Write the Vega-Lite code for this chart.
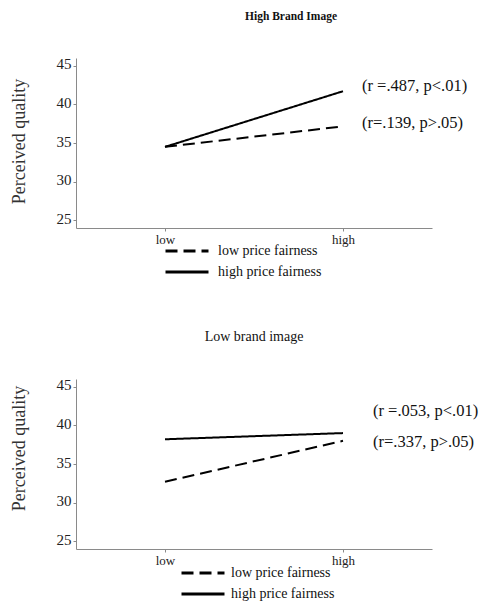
{
  "$schema": "https://vega.github.io/schema/vega-lite/v6.json",
  "background": "white",
  "padding": {"top": 11, "left": 10, "right": 0, "bottom": 0},
  "spacing": 46,
  "resolve": {"scale": {"strokeDash": "independent"}, "legend": {"strokeDash": "independent"}},
  "config": {
    "view": {"stroke": null},
    "font": "Liberation Serif",
    "axis": {"grid": false, "domainColor": "#8a8a8a", "tickColor": "#8a8a8a", "tickSize": 3, "labelFont": "Liberation Serif", "titleFont": "Liberation Serif", "labelColor": "#222", "titleColor": "#333", "titleFontWeight": "normal"},
    "title": {"font": "Liberation Serif", "color": "#111"}
  },
  "datasets": {
    "lines": [
      {"panel": "high", "fairness": "low price fairness", "level": "low", "value": 34.5},
      {"panel": "high", "fairness": "low price fairness", "level": "high", "value": 37.15},
      {"panel": "high", "fairness": "high price fairness", "level": "low", "value": 34.5},
      {"panel": "high", "fairness": "high price fairness", "level": "high", "value": 41.7},
      {"panel": "low", "fairness": "low price fairness", "level": "low", "value": 32.7},
      {"panel": "low", "fairness": "low price fairness", "level": "high", "value": 38.0},
      {"panel": "low", "fairness": "high price fairness", "level": "low", "value": 38.2},
      {"panel": "low", "fairness": "high price fairness", "level": "high", "value": 39.0}
    ],
    "notes": [
      {"panel": "high", "level": "high", "y": 42.4, "label": "(r =.487, p<.01)"},
      {"panel": "high", "level": "high", "y": 37.65, "label": "(r=.139, p>.05)"},
      {"panel": "low", "level": "high", "y": 41.9, "label": "(r =.053, p<.01)"},
      {"panel": "low", "level": "high", "y": 37.9, "label": "(r=.337, p>.05)"}
    ]
  },
  "vconcat": [
    {
      "width": 356,
      "height": 170,
      "title": {"text": "High Brand Image", "fontWeight": "bold", "fontSize": 11.5, "dx": 37, "offset": 34},
      "layer": [
        {
          "data": {"name": "lines"},
          "transform": [{"filter": "datum.panel === 'high'"}],
          "mark": {"type": "line", "color": "black", "strokeWidth": 2},
          "encoding": {
            "x": {"field": "level", "type": "ordinal", "scale": {"type": "point", "domain": ["low", "high"], "padding": 0.5}, "axis": {"title": null, "labelAngle": 0, "labelFontSize": 13, "labelPadding": 2}},
            "y": {"field": "value", "type": "quantitative", "scale": {"domain": [25, 45]}, "axis": {"values": [25, 30, 35, 40, 45], "title": "Perceived quality", "labelFontSize": 15, "titleFontSize": 18, "labelPadding": 2, "labelOffset": -2, "titlePadding": 28, "titleY": 83}},
            "strokeDash": {"field": "fairness", "type": "nominal", "scale": {"domain": ["low price fairness", "high price fairness"], "range": [[12, 6], [1, 0]]},
              "legend": {"title": null, "orient": "none", "legendX": 88, "legendY": 182.5, "symbolType": "stroke", "symbolSize": 1849, "symbolStrokeWidth": 3, "symbolStrokeColor": "black", "labelFontSize": 14, "labelFont": "Liberation Serif", "labelColor": "#111", "clipHeight": 21, "rowPadding": 0, "padding": 0, "labelOffset": 8, "direction": "vertical",
                "encode": {"symbols": {"update": {"strokeDash": {"signal": "datum.value === 'low price fairness' ? [22, 12] : [1, 0]"}}}}}}
          }
        },
        {
          "data": {"name": "notes"},
          "transform": [{"filter": "datum.panel === 'high'"}],
          "mark": {"type": "text", "align": "left", "baseline": "middle", "dx": 19, "fontSize": 16.5, "color": "#111"},
          "encoding": {
            "x": {"field": "level", "type": "ordinal"},
            "y": {"field": "y", "type": "quantitative"},
            "text": {"field": "label"}
          }
        }
      ]
    },
    {
      "width": 356,
      "height": 170,
      "title": {"text": "Low brand image", "fontWeight": "normal", "fontSize": 14, "offset": 34},
      "layer": [
        {
          "data": {"name": "lines"},
          "transform": [{"filter": "datum.panel === 'low'"}],
          "mark": {"type": "line", "color": "black", "strokeWidth": 2},
          "encoding": {
            "x": {"field": "level", "type": "ordinal", "scale": {"type": "point", "domain": ["low", "high"], "padding": 0.5}, "axis": {"title": null, "labelAngle": 0, "labelFontSize": 13, "labelPadding": 2}},
            "y": {"field": "value", "type": "quantitative", "scale": {"domain": [25, 45]}, "axis": {"values": [25, 30, 35, 40, 45], "title": "Perceived quality", "labelFontSize": 15, "titleFontSize": 18, "labelPadding": 2, "labelOffset": -2, "titlePadding": 28, "titleY": 69}},
            "strokeDash": {"field": "fairness", "type": "nominal", "scale": {"domain": ["low price fairness", "high price fairness"], "range": [[12, 6], [1, 0]]},
              "legend": {"title": null, "orient": "none", "legendX": 104, "legendY": 183.5, "symbolType": "stroke", "symbolSize": 1849, "symbolStrokeWidth": 3, "symbolStrokeColor": "black", "labelFontSize": 14, "labelFont": "Liberation Serif", "labelColor": "#111", "clipHeight": 21, "rowPadding": 0, "padding": 0, "labelOffset": 5, "direction": "vertical",
                "encode": {"symbols": {"update": {"strokeDash": {"signal": "datum.value === 'low price fairness' ? [22, 12] : [1, 0]"}}}}}}
          }
        },
        {
          "data": {"name": "notes"},
          "transform": [{"filter": "datum.panel === 'low'"}],
          "mark": {"type": "text", "align": "left", "baseline": "middle", "dx": 30, "fontSize": 16.5, "color": "#111"},
          "encoding": {
            "x": {"field": "level", "type": "ordinal"},
            "y": {"field": "y", "type": "quantitative"},
            "text": {"field": "label"}
          }
        }
      ]
    }
  ]
}
